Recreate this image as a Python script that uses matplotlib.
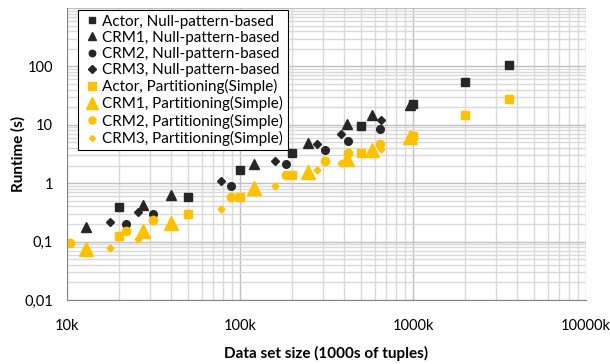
import matplotlib
matplotlib.use("Agg")
import matplotlib.pyplot as plt
from matplotlib.ticker import FixedLocator, LogLocator, NullFormatter

plt.rcParams['font.family'] = ['Lato', 'DejaVu Sans']

# Tamaños de los conjuntos de datos (miles de tuplas)
x_actor = [20, 50, 100, 200, 500, 1000, 2000, 3600]
x_crm1 = [12.9, 27.5, 40, 120, 247, 415, 580, 960]
x_crm2_null = [21.9, 31.4, 88.7, 184, 310, 421, 644]
x_crm2_part = [10.4, 21.9, 31.4, 88.7, 184, 310, 421, 644]
x_crm3 = [17.7, 25.7, 77.6, 159, 279, 384, 653]

# Tiempos de ejecución (s)
actor_null = [0.39, 0.58, 1.68, 3.3, 9.5, 22.7, 54, 106]
crm1_null = [0.178, 0.42, 0.63, 2.13, 4.9, 10.3, 14.7, 21.8]
crm2_null = [0.2, 0.30, 0.9, 2.13, 3.7, 5.3, 8.5]
crm3_null = [0.217, 0.32, 1.09, 2.4, 4.7, 6.95, 12.1]
actor_part = [0.125, 0.30, 0.58, 1.38, 3.3, 6.4, 14.7, 27.7]
crm1_part = [0.075, 0.152, 0.208, 0.83, 1.56, 2.6, 3.7, 6.2]
crm2_part = [0.095, 0.152, 0.234, 0.58, 1.38, 2.4, 3.3, 4.7]
crm3_part = [0.078, 0.111, 0.36, 0.9, 1.68, 2.22, 3.85]

negro = '#262626'
amarillo = '#FFC000'

fig = plt.figure(figsize=(6.1, 3.64), dpi=100)
ax = fig.add_axes([67/610, 1-300/364, (586-67)/610, (300-8)/364])

ax.plot(x_actor, actor_null, 's', color=negro, ms=5.5, label='Actor, Null-pattern-based')
ax.plot(x_crm1, crm1_null, '^', color=negro, ms=7.5, label='CRM1, Null-pattern-based')
ax.plot(x_crm2_null, crm2_null, 'o', color=negro, ms=5.5, label='CRM2, Null-pattern-based')
ax.plot(x_crm3, crm3_null, 'D', color=negro, ms=4.5, label='CRM3, Null-pattern-based')
ax.plot(x_actor, actor_part, 's', color=amarillo, ms=6, label='Actor, Partitioning(Simple)')
ax.plot(x_crm1, crm1_part, '^', color=amarillo, ms=10, label='CRM1, Partitioning(Simple)')
ax.plot(x_crm2_part, crm2_part, 'o', color=amarillo, ms=6, label='CRM2, Partitioning(Simple)')
ax.plot(x_crm3, crm3_part, 'D', color=amarillo, ms=3.5, label='CRM3, Partitioning(Simple)')

ax.set_xscale('log')
ax.set_yscale('log')
ax.set_xlim(10, 10000)
ax.set_ylim(0.01, 1000)

ax.xaxis.set_major_locator(FixedLocator([10, 100, 1000, 10000]))
ax.set_xticklabels(['10k', '100k', '1000k', '10000k'])
ax.xaxis.set_minor_locator(LogLocator(base=10, subs=range(2, 10)))
ax.xaxis.set_minor_formatter(NullFormatter())
ax.yaxis.set_major_locator(FixedLocator([0.01, 0.1, 1, 10, 100, 1000]))
ax.set_yticklabels(['0,01', '0,1', '1', '10', '100', ''])
ax.yaxis.set_minor_locator(LogLocator(base=10, subs=range(2, 10)))
ax.yaxis.set_minor_formatter(NullFormatter())

# Rejilla mayor y menor
ax.grid(True, which='major', color='#c0c0c0', lw=1)
ax.grid(True, which='minor', color='#d9d9d9', lw=1)
ax.set_axisbelow(True)
ax.tick_params(which='both', length=0)
ax.tick_params(axis='x', pad=14, labelsize=10.5)
ax.tick_params(axis='y', pad=10, labelsize=10.5)
for lado in ['top', 'right']:
    ax.spines[lado].set_visible(False)
for lado in ['left', 'bottom']:
    ax.spines[lado].set_color('#868686')

ax.set_xlabel('Data set size (1000s of tuples)', fontsize=11, fontweight='bold')
ax.set_ylabel('Runtime (s)', fontsize=11, fontweight='bold')
ax.xaxis.set_label_coords(0.5, -0.182)
ax.yaxis.set_label_coords(-0.094, 0.5)
ax.xaxis.label.set_va('center')
ax.yaxis.label.set_va('center')

ley = ax.legend(loc='upper left', bbox_to_anchor=(11/519, 0.993), fontsize=11,
                frameon=True, fancybox=False, edgecolor='black', framealpha=1,
                handletextpad=0.1, labelspacing=0.14, borderpad=0.3, handlelength=1.2,
                borderaxespad=0, markerscale=0.85)
ley.get_frame().set_linewidth(0.8)

fig.savefig('out.png', dpi=100)
